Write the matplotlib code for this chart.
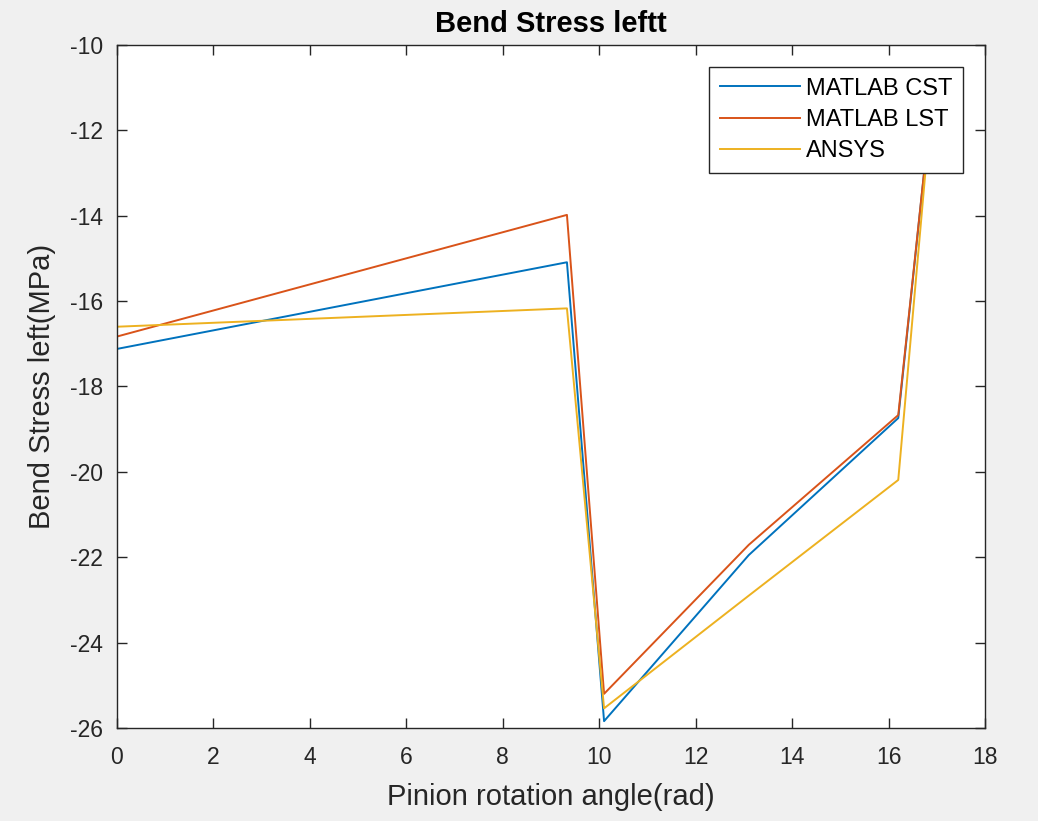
import numpy as np
import matplotlib.pyplot as plt

# pinion rotation angle (rad) and bending stress (MPa)
angle = [0.0, 9.33, 10.1, 13.1, 16.2, 16.8]
cst = [-17.12, -15.09, -25.84, -21.95, -18.74, -12.3]
lst = [-16.83, -13.98, -25.2, -21.71, -18.67, -12.3]
ansys = [-16.6, -16.17, -25.54, -22.9, -20.19, -12.5]

series_names = ["MATLAB CST", "MATLAB LST", "ANSYS"]
colors = ["#0072BD", "#D95319", "#EDB120"]

plt.rcParams['font.family'] = ['Liberation Sans', 'DejaVu Sans']
plt.rcParams['axes.unicode_minus'] = False

fig = plt.figure(figsize=(10.38, 8.21), dpi=100, facecolor="#f0f0f0")
ax = fig.add_axes([0.1127, 0.1133, 0.8363, 0.8319])
ax.set_facecolor("white")

for ys, name, c in zip([cst, lst, ansys], series_names, colors):
    ax.plot(angle, ys, color=c, linewidth=1.4, label=name)

ax.set_xlim(0, 18)
ax.set_ylim(-26, -10)
ax.set_xticks(np.arange(0, 19, 2))
ax.set_yticks(np.arange(-26, -9, 2))

ax.tick_params(direction="in", length=7, width=1, top=True, right=True,
               labelsize=16.5, colors="#262626")
ax.tick_params(axis="x", pad=13)
ax.tick_params(axis="y", pad=10)
for sp in ax.spines.values():
    sp.set_color("#262626")
    sp.set_linewidth(1)

ax.set_xlabel("Pinion rotation angle(rad)", fontsize=21, color="#262626", labelpad=10)
ax.set_ylabel("Bend Stress left(MPa)", fontsize=21, color="#262626", labelpad=10)
ax.set_title("Bend Stress leftt", fontsize=21, fontweight="bold", color="black", pad=9)

leg = ax.legend(loc="upper right", fontsize=17, fancybox=False, framealpha=1,
                edgecolor="#262626", handlelength=3.4, handletextpad=0.25,
                borderpad=0.45, labelspacing=0.4, borderaxespad=0.93)
leg.get_frame().set_linewidth(1)

fig.savefig("out.png", dpi=100, facecolor=fig.get_facecolor())
